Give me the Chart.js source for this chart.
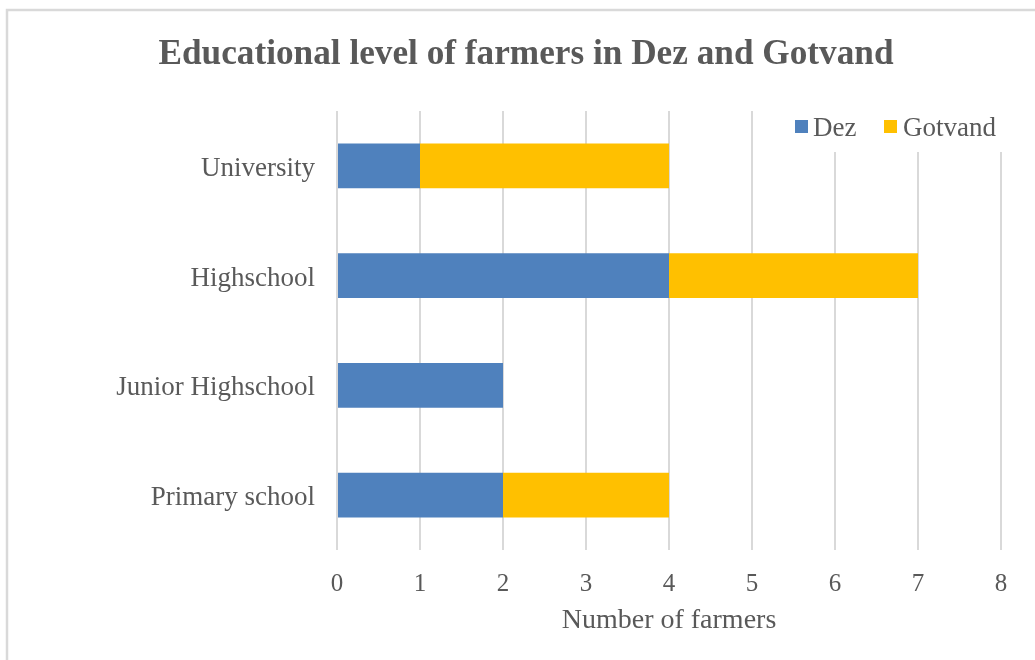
<!DOCTYPE html>
<html>
<head>
<meta charset="utf-8">
<script src="https://cdn.jsdelivr.net/npm/chart.js@4.4.1/dist/chart.umd.min.js"></script>
<style>
html,body{margin:0;padding:0;background:#fff;}
#wrap{position:relative;width:1035px;height:660px;}
</style>
</head>
<body>
<div id="wrap"><canvas id="c" width="1035" height="660"></canvas></div>
<script>
const chartTitle = 'Educational level of farmers in Dez and Gotvand';
const categories = ['University', 'Highschool', 'Junior Highschool', 'Primary school'];
const seriesNames = ['Dez', 'Gotvand'];
const dezValues = [1, 4, 2, 2];
const gotvandValues = [3, 3, 0, 2];
const seriesColors = ['#4F81BD', '#FFC000'];
const xAxisTitle = 'Number of farmers';
const xMin = 0, xMax = 8, xStep = 1;

const textColor = '#595959';
const fontFamily = '"Liberation Serif", "Times New Roman", serif';

const decorPlugin = {
  id: 'decor',
  beforeDraw(chart) {
    const ctx = chart.ctx;
    ctx.save();
    ctx.strokeStyle = '#D9D9D9';
    ctx.lineWidth = 2.5;
    ctx.beginPath();
    ctx.moveTo(7, 660);
    ctx.lineTo(7, 10);
    ctx.lineTo(1035, 10);
    ctx.stroke();
    ctx.restore();
  },
  afterDraw(chart) {
    const ctx = chart.ctx;
    ctx.save();
    ctx.font = 'bold 36px ' + fontFamily;
    ctx.fillStyle = textColor;
    ctx.textAlign = 'center';
    ctx.textBaseline = 'alphabetic';
    const w = ctx.measureText(chartTitle).width;
    const sx = 735 / w;
    ctx.translate(526, 64);
    ctx.scale(sx, 1);
    ctx.fillText(chartTitle, 0, 0);
    ctx.restore();

    ctx.save();
    ctx.fillStyle = '#FFFFFF';
    ctx.fillRect(788, 110, 222, 42);
    ctx.font = '27px ' + fontFamily;
    ctx.textAlign = 'left';
    ctx.textBaseline = 'alphabetic';
    const items = [
      {box: 795, text: 813},
      {box: 884, text: 903}
    ];
    chart.data.datasets.forEach((ds, i) => {
      ctx.fillStyle = ds.backgroundColor;
      ctx.fillRect(items[i].box, 120, 13, 13);
      ctx.fillStyle = textColor;
      ctx.fillText(ds.label, items[i].text, 136);
    });
    ctx.restore();
  }
};

new Chart(document.getElementById('c'), {
  type: 'bar',
  data: {
    labels: categories,
    datasets: [
      {label: seriesNames[0], data: dezValues, backgroundColor: seriesColors[0], borderWidth: 0},
      {label: seriesNames[1], data: gotvandValues, backgroundColor: seriesColors[1], borderWidth: 0}
    ]
  },
  options: {
    indexAxis: 'y',
    responsive: false,
    animation: false,
    devicePixelRatio: 1,
    layout: {padding: {top: 111, right: 34, bottom: 0, left: 0}},
    datasets: {bar: {categoryPercentage: 1.0, barPercentage: 0.41}},
    plugins: {
      legend: {display: false},
      title: {display: false},
      tooltip: {enabled: false}
    },
    scales: {
      x: {
        stacked: true,
        min: xMin, max: xMax,
        ticks: {stepSize: xStep, color: textColor, font: {family: fontFamily, size: 25}, padding: 19},
        grid: {color: '#D9D9D9', lineWidth: 2, drawTicks: false},
        border: {display: false},
        title: {display: true, text: xAxisTitle, color: textColor, font: {family: fontFamily, size: 28}, padding: {top: 4, bottom: 23}},
        afterFit(scale) { scale.height = 110; }
      },
      y: {
        stacked: true,
        ticks: {color: textColor, font: {family: fontFamily, size: 27}, padding: 22, labelOffset: 3},
        grid: {display: false, drawTicks: false},
        border: {display: false},
        afterFit(scale) { scale.width = 337; }
      }
    }
  },
  plugins: [decorPlugin]
});
</script>
</body>
</html>
